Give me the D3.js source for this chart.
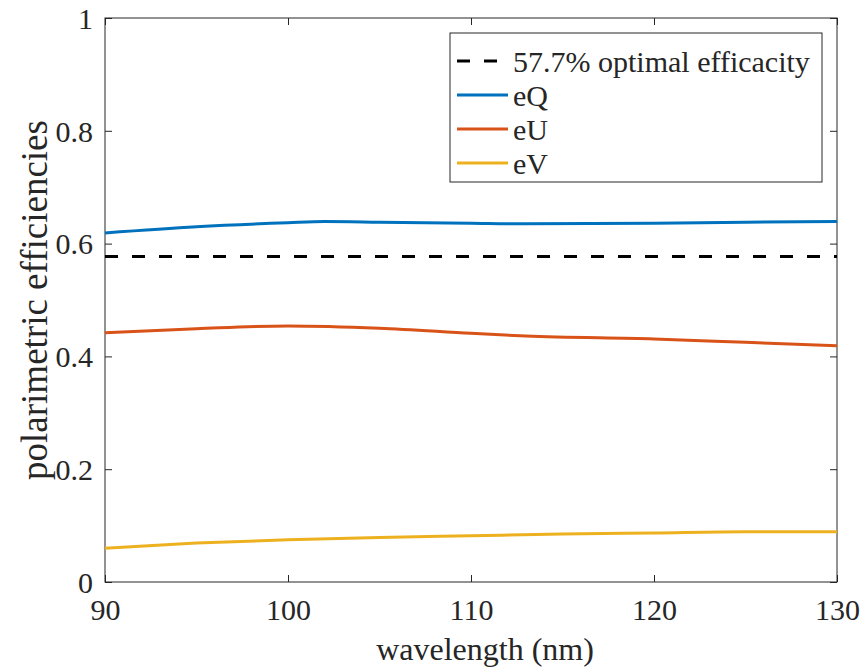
<!DOCTYPE html>
<html><head><meta charset="utf-8">
<script src="https://cdn.jsdelivr.net/npm/d3@7"></script>
<style>body{margin:0;background:#fff}svg{display:block}</style>
</head><body><svg id="c" width="866" height="671"></svg>
<script>
const wavelengthQ = [90, 95, 100, 102, 105, 110, 113, 120, 125, 130];
const eQ = [0.619, 0.630, 0.637, 0.639, 0.638, 0.636, 0.635, 0.636, 0.638, 0.639];
const wavelengthU = [90, 95, 100, 105, 110, 113, 120, 125, 130];
const eU = [0.442, 0.449, 0.454, 0.450, 0.441, 0.436, 0.431, 0.425, 0.419];
const wavelengthV = [90, 95, 100, 105, 110, 115, 120, 125, 130];
const eV = [0.060, 0.069, 0.075, 0.079, 0.082, 0.085, 0.087, 0.089, 0.089];
const optimal = 0.577;
const xTicks = [90, 100, 110, 120, 130];
const yTicks = [0, 0.2, 0.4, 0.6, 0.8, 1];
const legendLabels = ["57.7% optimal efficacity", "eQ", "eU", "eV"];
const colors = ["#000000", "#0072BD", "#D95319", "#EDB120"];

const FONT = "'Liberation Serif', 'Times New Roman', Times, serif";
const L = 105, R = 837, T = 18, B = 582;
const svg = d3.select("#c");
const x = d3.scaleLinear().domain([90, 130]).range([L, R]);
const y = d3.scaleLinear().domain([0, 1]).range([B, T]);

const axisColor = "#262626";
function styleAxis(g) {
  g.attr("font-family", FONT);
  g.select(".domain").remove();
  g.selectAll(".tick line").attr("stroke", axisColor).attr("stroke-width", 1);
  g.selectAll(".tick text").attr("font-size", 30).attr("fill", axisColor).style("font-family", FONT);
}
// bottom
const gx = svg.append("g").attr("transform", `translate(0,${B})`)
  .call(d3.axisBottom(x).tickValues(xTicks).tickSizeInner(-7).tickSizeOuter(0).tickPadding(14).tickFormat(d3.format("d")))
  .call(styleAxis);
gx.selectAll(".tick text").attr("y", 38).attr("dy", null);
// top ticks
svg.append("g").attr("transform", `translate(0,${T})`)
  .call(d3.axisTop(x).tickValues(xTicks).tickSizeInner(-7).tickSizeOuter(0).tickFormat(""))
  .call(styleAxis);
// left
const gy = svg.append("g").attr("transform", `translate(${L},0)`)
  .call(d3.axisLeft(y).tickValues(yTicks).tickSizeInner(-7).tickSizeOuter(0).tickPadding(12).tickFormat(d => d === 0 || d === 1 ? d3.format("d")(d) : d3.format(".1f")(d)))
  .call(styleAxis);
gy.selectAll(".tick text").attr("dy", "0.34em");
// right ticks
svg.append("g").attr("transform", `translate(${R},0)`)
  .call(d3.axisRight(y).tickValues(yTicks).tickSizeInner(-7).tickSizeOuter(0).tickFormat(""))
  .call(styleAxis);

// box
svg.append("rect").attr("x", L).attr("y", T).attr("width", R - L).attr("height", B - T)
  .attr("fill", "none").attr("stroke", axisColor).attr("stroke-width", 1);

const line = d3.line().x(d => x(d[0])).y(d => y(d[1])).curve(d3.curveMonotoneX);
svg.append("line").attr("x1", x(90)).attr("x2", x(130)).attr("y1", y(optimal)).attr("y2", y(optimal))
  .attr("stroke", colors[0]).attr("stroke-width", 3).attr("stroke-dasharray", "13,14");
const series = [[wavelengthQ, eQ], [wavelengthU, eU], [wavelengthV, eV]];
series.forEach((s, i) => {
  svg.append("path").datum(s[0].map((w, j) => [w, s[1][j]]))
    .attr("d", line).attr("fill", "none").attr("stroke", colors[i + 1]).attr("stroke-width", 3);
});

// legend
const lg = svg.append("g");
lg.append("rect").attr("x", 450).attr("y", 33).attr("width", 372).attr("height", 149)
  .attr("fill", "#fff").attr("stroke", axisColor).attr("stroke-width", 1);
legendLabels.forEach((lab, i) => {
  const cy = 61 + i * 34;
  lg.append("line").attr("x1", 457).attr("x2", 508).attr("y1", cy).attr("y2", cy)
    .attr("stroke", colors[i]).attr("stroke-width", 3)
    .attr("stroke-dasharray", i === 0 ? "13,14" : null);
  lg.append("text").attr("x", 513).attr("y", cy).attr("dy", "0.35em").attr("font-size", 30)
    .style("font-family", FONT).attr("fill", axisColor).text(lab);
});

// axis labels
svg.append("text").attr("x", 485).attr("y", 660).attr("text-anchor", "middle").attr("font-size", 32)
  .style("font-family", FONT).attr("fill", axisColor).text("wavelength (nm)");
svg.append("text").attr("transform", `translate(47,${(T + B) / 2}) rotate(-90)`).attr("text-anchor", "middle").attr("font-size", 37)
  .style("font-family", FONT).attr("fill", axisColor).text("polarimetric efficiencies");
</script></body></html>
